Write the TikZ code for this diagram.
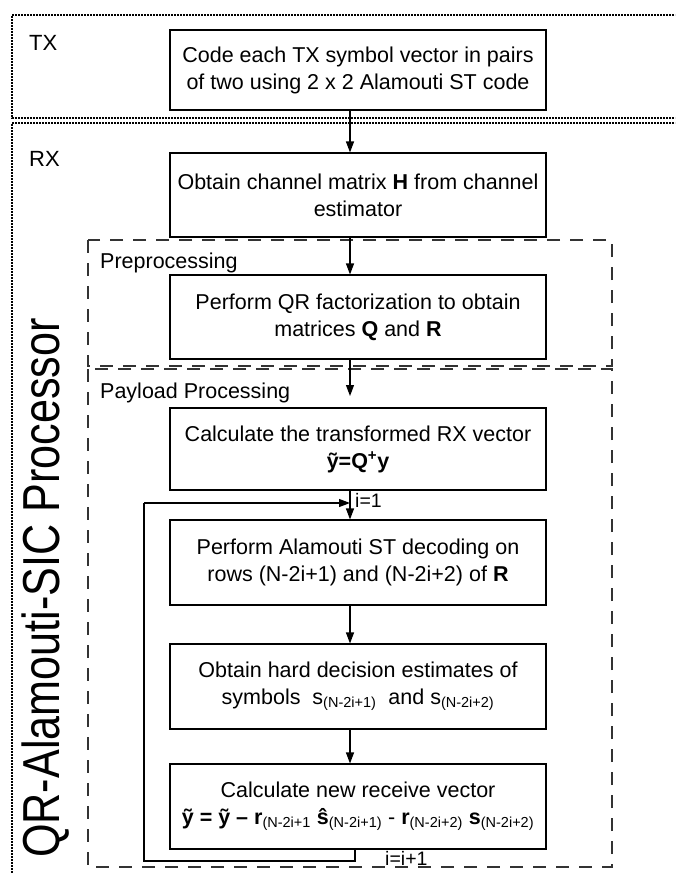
\documentclass[tikz,border=0pt]{standalone}
\usepackage{fontspec}
\setmainfont{Liberation Sans}
\newfontfamily\bigfont{Liberation Sans}[FakeStretch=0.83]
\usetikzlibrary{arrows.meta}
\newcommand{\sub}[1]{\textsubscript{\fontsize{14.5}{14.5}\selectfont #1}}
\begin{document}
\begin{tikzpicture}[x=1pt,y=-1pt,
  every node/.style={font=\fontsize{21.5}{27}\selectfont},
  stepbox/.style={draw,line width=1.1pt,minimum width=376pt,inner sep=0pt,align=center},
  frameline/.style={line width=1.6pt,dash pattern=on 1.6pt off 1.4pt},
  groupbox/.style={draw=black!80,line width=1.3pt,dash pattern=on 13pt off 10pt},
  flow/.style={line width=1.1pt,-{Triangle[length=11pt,width=8pt]}},
  loopline/.style={line width=1.1pt},
  tag/.style={anchor=west,inner sep=0pt}]
\path[use as bounding box] (0,0) rectangle (675,873);
\clip (0,0) rectangle (675,873);

% transmitter and receiver frames
\draw[frameline] (680,15) -- (12,15) -- (12,118) -- (680,118);
\draw[frameline] (680,123) -- (12,123) -- (12,880);

% processing groups
\draw[groupbox] (88,240) rectangle (612,366);
\draw[groupbox] (88,369) rectangle (612,867);

% group captions
\node[tag,font=\fontsize{22}{22}\selectfont] (tx) at (29,43) {TX};
\node[tag,font=\fontsize{22}{22}\selectfont] (rx) at (29,159) {RX};
\node[tag] (pre) at (100,263) {Preprocessing};
\node[tag] (pay) at (100,393) {Payload Processing};
\node[rotate=90,inner sep=0pt] (proc) at (46,588)
  {\bigfont\fontsize{52}{52}\selectfont QR-Alamouti-SIC Processor};

% processing steps
\node[stepbox,minimum height=80pt] (code) at (358,70)
  {Code each TX symbol vector in pairs\\of two using 2 x 2 Alamouti ST code};
\node[stepbox,minimum height=84pt] (chan) at (358,195)
  {Obtain channel matrix \textbf{H} from channel\\estimator};
\node[stepbox,minimum height=84pt] (qr) at (358,317)
  {Perform QR factorization to obtain\\matrices \textbf{Q} and \textbf{R}};
\node[stepbox,minimum height=82pt] (calc) at (358,449)
  {Calculate the transformed RX vector\\\textbf{ỹ=Q\textsuperscript{+}y}};
\node[stepbox,minimum height=85pt] (dec) at (358,562.5)
  {Perform Alamouti ST decoding on\\rows (N-2i+1) and (N-2i+2) of \textbf{R}};
\node[stepbox,minimum height=85pt] (hard) at (358,686.5)
  {Obtain hard decision estimates of\\symbols \ s\sub{(N-2i+1)} \ and s\sub{(N-2i+2)}};
\node[stepbox,minimum height=85pt] (upd) at (358,806.5)
  {Calculate new receive vector\\\textbf{ỹ = ỹ –
   r}\sub{(N-2i+1} \textbf{ŝ}\sub{(N-2i+1)} - \textbf{r}\sub{(N-2i+2)}
   \textbf{s}\sub{(N-2i+2)}};

% connectors
\coordinate (ax) at (350,0);
\coordinate (qrend) at (350,396);
\coordinate (join) at (350,503);
\coordinate (lb) at (144,861);
\coordinate (lt) at (144,503);
\draw[flow] (code.south -| ax) -- (chan.north -| ax);
\draw[flow] (chan.south -| ax) -- (qr.north -| ax);
\draw[flow] (qr.south -| ax) -- (qrend);
\draw[flow] (calc.south -| ax) -- (dec.north -| ax);
\draw[flow] (dec.south -| ax) -- (hard.north -| ax);
\draw[flow] (hard.south -| ax) -- (upd.north -| ax);
\draw[loopline] (upd.south -| 355,0) |- (lb) -- (lt);
\draw[flow] (lt) -- (join);

% loop counters
\node[tag,font=\fontsize{19.5}{19.5}\selectfont] (init) at (355,500) {i=1};
\node[tag,font=\fontsize{19.5}{19.5}\selectfont] (incr) at (385,858) {i=i+1};
\end{tikzpicture}
\end{document}
